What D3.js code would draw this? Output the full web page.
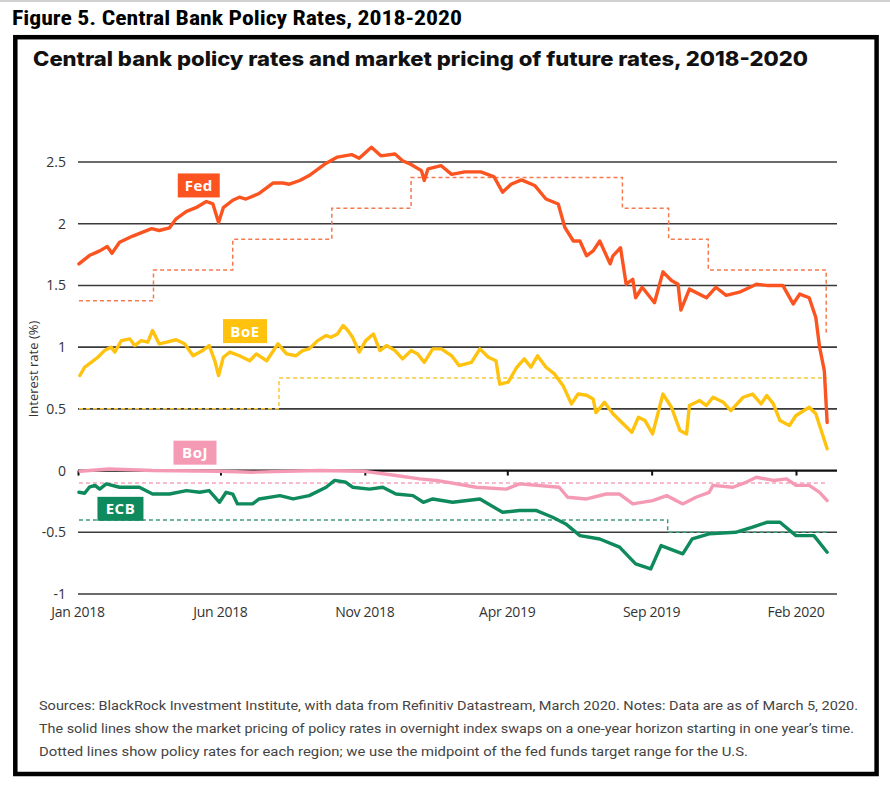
<!DOCTYPE html>
<html><head><meta charset="utf-8">
<script src="https://cdn.jsdelivr.net/npm/d3@7"></script>
<style>body{margin:0;background:#fff;}svg{display:block;}</style>
</head><body>
<svg id="c" width="890" height="790"></svg>
<script>
// ---------- DATA ----------
const figureTitle = "Figure 5. Central Bank Policy Rates, 2018-2020";
const chartTitle = "Central bank policy rates and market pricing of future rates, 2018-2020";
const yLabel = "Interest rate (%)";
const yTicks = [2.5, 2, 1.5, 1, 0.5, 0, -0.5, -1];
const xTicks = ["2018-01-01","2018-06-01","2018-11-01","2019-04-01","2019-09-01","2020-02-01"];
const notes = [
 "Sources: BlackRock Investment Institute, with data from Refinitiv Datastream, March 2020. Notes: Data are as of March 5, 2020.",
 "The solid lines show the market pricing of policy rates in overnight index swaps on a one-year horizon starting in one year\u2019s time.",
 "Dotted lines show policy rates for each region; we use the midpoint of the fed funds target range for the U.S."
];

const fedMarket = [
["2018-01-02",1.675],["2018-01-13",1.742],["2018-01-24",1.78],["2018-02-01",1.815],["2018-02-06",1.76],["2018-02-14",1.85],
["2018-02-28",1.90],["2018-03-20",1.96],["2018-03-28",1.945],["2018-04-08",1.967],["2018-04-15",2.04],["2018-04-26",2.10],
["2018-05-06",2.13],["2018-05-17",2.18],["2018-05-24",2.16],["2018-05-30",2.01],["2018-06-04",2.13],["2018-06-14",2.19],
["2018-06-21",2.215],["2018-06-28",2.20],["2018-07-12",2.245],["2018-07-27",2.33],["2018-08-06",2.33],["2018-08-13",2.32],
["2018-08-24",2.35],["2018-09-03",2.39],["2018-09-12",2.44],["2018-09-21",2.49],["2018-10-03",2.54],["2018-10-18",2.56],
["2018-10-26",2.53],["2018-11-08",2.62],["2018-11-18",2.55],["2018-12-03",2.565],["2018-12-11",2.51],["2018-12-20",2.48],
["2018-12-31",2.43],["2019-01-03",2.35],["2019-01-07",2.445],["2019-01-21",2.47],["2019-02-01",2.40],["2019-02-15",2.42],
["2019-03-04",2.42],["2019-03-18",2.38],["2019-03-27",2.255],["2019-04-05",2.32],["2019-04-16",2.355],["2019-04-30",2.31],
["2019-05-12",2.20],["2019-05-25",2.16],["2019-06-01",1.97],["2019-06-10",1.86],["2019-06-17",1.86],["2019-06-24",1.74],
["2019-07-01",1.78],["2019-07-08",1.86],["2019-07-19",1.675],["2019-07-22",1.74],["2019-07-30",1.805],["2019-08-05",1.51],
["2019-08-12",1.55],["2019-08-15",1.40],["2019-08-22",1.485],["2019-09-04",1.36],["2019-09-13",1.61],["2019-09-22",1.54],
["2019-09-29",1.51],["2019-10-02",1.30],["2019-10-11",1.47],["2019-10-29",1.40],["2019-11-08",1.485],["2019-11-19",1.42],
["2019-12-03",1.445],["2019-12-21",1.51],["2020-01-01",1.50],["2020-01-18",1.50],["2020-01-29",1.35],["2020-02-05",1.43],
["2020-02-15",1.40],["2020-02-22",1.24],["2020-02-26",1.00],["2020-03-02",0.81],["2020-03-05",0.39]
];
const boeMarket = [
["2018-01-03",0.77],["2018-01-08",0.837],["2018-01-15",0.877],["2018-01-22",0.918],["2018-01-29",0.972],["2018-02-05",1.0],
["2018-02-09",0.96],["2018-02-16",1.053],["2018-02-25",1.067],["2018-03-02",1.013],["2018-03-09",1.053],["2018-03-16",1.04],
["2018-03-21",1.135],["2018-03-28",1.027],["2018-04-05",1.04],["2018-04-15",1.06],["2018-04-24",1.027],["2018-05-03",0.93],
["2018-05-13",0.972],["2018-05-20",1.013],["2018-05-26",0.89],["2018-05-30",0.77],["2018-06-04",0.918],["2018-06-11",0.96],
["2018-06-21",0.93],["2018-07-02",0.89],["2018-07-09",0.945],["2018-07-20",0.89],["2018-08-01",1.027],["2018-08-10",0.945],
["2018-08-20",0.93],["2018-08-27",0.972],["2018-09-03",0.986],["2018-09-12",1.053],["2018-09-21",1.094],["2018-09-26",1.08],
["2018-10-03",1.107],["2018-10-09",1.175],["2018-10-14",1.135],["2018-10-19",1.08],["2018-10-26",0.96],["2018-11-02",1.053],
["2018-11-10",1.107],["2018-11-17",0.972],["2018-11-24",1.013],["2018-12-03",0.972],["2018-12-11",0.905],["2018-12-20",0.972],
["2018-12-27",0.945],["2019-01-03",0.877],["2019-01-12",0.986],["2019-01-21",0.986],["2019-02-01",0.93],["2019-02-09",0.85],
["2019-02-22",0.877],["2019-03-03",0.986],["2019-03-12",0.918],["2019-03-20",0.89],["2019-03-24",0.70],["2019-04-02",0.716],
["2019-04-11",0.837],["2019-04-19",0.905],["2019-04-26",0.837],["2019-05-03",0.93],["2019-05-12",0.837],["2019-05-21",0.783],
["2019-05-30",0.69],["2019-06-08",0.54],["2019-06-15",0.62],["2019-06-24",0.61],["2019-07-01",0.58],["2019-07-04",0.47],
["2019-07-13",0.553],["2019-07-22",0.46],["2019-08-02",0.378],["2019-08-11",0.31],["2019-08-18",0.432],["2019-08-25",0.405],
["2019-09-02",0.297],["2019-09-13",0.62],["2019-09-22",0.513],["2019-10-01",0.324],["2019-10-08",0.297],["2019-10-11",0.527],
["2019-10-22",0.567],["2019-10-29",0.527],["2019-11-05",0.594],["2019-11-16",0.553],["2019-11-24",0.486],["2019-12-07",0.594],
["2019-12-17",0.62],["2019-12-26",0.54],["2020-01-01",0.608],["2020-01-08",0.54],["2020-01-15",0.405],["2020-01-25",0.365],
["2020-02-01",0.446],["2020-02-15",0.513],["2020-02-22",0.46],["2020-03-05",0.176]
];
const bojMarket = [
["2018-01-03",-0.005],["2018-02-03",0.013],["2018-03-21",0.0],["2018-05-31",-0.005],["2018-07-05",-0.013],["2018-09-14",0.0],
["2018-10-30",-0.005],["2018-12-04",-0.04],["2018-12-29",-0.067],["2019-01-16",-0.08],["2019-02-27",-0.135],["2019-03-31",-0.15],
["2019-04-14",-0.108],["2019-05-26",-0.135],["2019-06-04",-0.216],["2019-06-24",-0.23],["2019-07-15",-0.19],["2019-07-29",-0.19],
["2019-08-12",-0.27],["2019-09-02",-0.243],["2019-09-17",-0.203],["2019-10-04",-0.27],["2019-10-18",-0.216],["2019-11-01",-0.176],
["2019-11-05",-0.12],["2019-11-26",-0.135],["2019-12-10",-0.095],["2019-12-21",-0.054],["2020-01-08",-0.08],["2020-01-22",-0.067],
["2020-02-01",-0.12],["2020-02-15",-0.12],["2020-02-26",-0.176],["2020-03-05",-0.243]
];
const ecbMarket = [
["2018-01-02",-0.176],["2018-01-08",-0.184],["2018-01-13",-0.135],["2018-01-19",-0.12],["2018-01-24",-0.15],["2018-01-31",-0.108],
["2018-02-14",-0.135],["2018-03-07",-0.135],["2018-03-21",-0.19],["2018-04-08",-0.19],["2018-04-26",-0.162],["2018-05-10",-0.176],
["2018-05-20",-0.162],["2018-05-31",-0.257],["2018-06-07",-0.176],["2018-06-14",-0.19],["2018-06-19",-0.27],["2018-07-05",-0.27],
["2018-07-12",-0.23],["2018-08-03",-0.203],["2018-08-17",-0.23],["2018-09-03",-0.203],["2018-09-21",-0.135],["2018-09-30",-0.08],
["2018-10-12",-0.095],["2018-10-19",-0.135],["2018-11-06",-0.15],["2018-11-20",-0.135],["2018-12-04",-0.19],["2018-12-22",-0.203],
["2019-01-02",-0.257],["2019-01-12",-0.23],["2019-02-02",-0.257],["2019-03-03",-0.23],["2019-03-27",-0.338],["2019-04-14",-0.324],
["2019-05-02",-0.324],["2019-05-19",-0.378],["2019-06-02",-0.432],["2019-06-17",-0.527],["2019-07-08",-0.554],["2019-07-29",-0.62],
["2019-08-15",-0.756],["2019-08-31",-0.797],["2019-09-11",-0.608],["2019-10-04",-0.675],["2019-10-14",-0.554],["2019-11-01",-0.513],
["2019-11-29",-0.50],["2019-12-17",-0.459],["2020-01-01",-0.419],["2020-01-15",-0.419],["2020-02-01",-0.527],["2020-02-20",-0.527],
["2020-03-05",-0.662]
];
// policy rates (step changes)
const fedPolicy = [["2018-01-02",1.375],["2018-03-22",1.625],["2018-06-14",1.875],["2018-09-27",2.125],["2018-12-20",2.375],
 ["2019-08-01",2.125],["2019-09-19",1.875],["2019-10-31",1.625],["2020-03-04",1.125],["2020-03-05",1.125]];
const boePolicy = [["2018-01-02",0.5],["2018-08-02",0.75],["2020-03-05",0.75]];
const bojPolicy = [["2018-01-02",-0.1],["2020-03-05",-0.1]];
const ecbPolicy = [["2018-01-02",-0.4],["2019-09-18",-0.5],["2020-03-05",-0.5]];

const seriesNames = ["Fed","BoE","BoJ","ECB"];
const seriesColors = ["#fc5420","#ffc20e","#f59ab4","#0f8a5c"];
const policyColors = ["#f57a50","#f8c93a","#f5a3bd","#3e9e7c"];
const labelPos = {Fed:["2018-05-09",2.31],BoE:["2018-06-27",1.13],BoJ:["2018-05-05",0.145],ECB:["2018-02-15",-0.31]};

// ---------- DRAW ----------
const svg = d3.select("#c");
const parse = d3.utcParse("%Y-%m-%d");
const W = 890;

svg.append("line").attr("x1",0).attr("x2",W).attr("y1",1).attr("y2",1).attr("stroke","#d0d0d0").attr("stroke-width",2);

svg.append("text").text(figureTitle).attr("x",12).attr("y",25)
  .attr("font-family","'Liberation Sans Narrow','Roboto Condensed','Liberation Sans',sans-serif")
  .attr("font-weight","bold").attr("font-size",20).attr("fill","#000")
  .attr("textLength",450).attr("lengthAdjust","spacingAndGlyphs");

svg.append("rect").attr("x",15.3).attr("y",37.2).attr("width",861.3).attr("height",736.8)
  .attr("fill","none").attr("stroke","#000").attr("stroke-width",4.5);

svg.append("text").text(chartTitle).attr("x",33).attr("y",66)
  .attr("font-family","Inter,'Open Sans',sans-serif").attr("font-weight",800).attr("font-size",20)
  .attr("fill","#111").attr("textLength",775).attr("lengthAdjust","spacingAndGlyphs");

const x = d3.scaleUtc().domain([parse("2018-01-01"), parse("2020-02-01")]).range([78, 796]);
const y = d3.scaleLinear().domain([-1, 2.5]).range([594, 162]);
const gridRight = 837;

// gridlines + y labels
const g = svg.append("g");
yTicks.forEach(v => {
  g.append("line").attr("x1",78).attr("x2",gridRight).attr("y1",y(v)).attr("y2",y(v))
    .attr("stroke", v===0 ? "#111" : "#3a3a3a").attr("stroke-width", v===0 ? 2.2 : 1.6);
  g.append("text").text(v).attr("x",66).attr("y",y(v)+5).attr("text-anchor","end")
    .attr("font-family","'Open Sans',sans-serif").attr("font-size",14).attr("fill","#333");
});

// x axis at zero
const xa = d3.axisBottom(x).tickValues(xTicks.map(parse)).tickSize(5).tickFormat("");
const axG = svg.append("g").attr("transform",`translate(0,${y(0)})`).call(xa);
axG.select(".domain").remove();
axG.selectAll(".tick line").attr("stroke","#111").attr("stroke-width",2);
xTicks.forEach(t => {
  svg.append("text").text(d3.utcFormat("%b %Y")(parse(t))).attr("x",x(parse(t))).attr("y",617)
    .attr("text-anchor","middle").attr("font-family","'Open Sans',sans-serif").attr("font-size",14)
    .attr("fill","#333").attr("letter-spacing","-0.3");
});

// y label
svg.append("text").text(yLabel).attr("transform","translate(38,369) rotate(-90)").attr("text-anchor","middle")
  .attr("font-family","'Open Sans',sans-serif").attr("font-size",13).attr("fill","#333");

const line = d3.line().x(d => x(parse(d[0]))).y(d => y(d[1]));
const step = d3.line().x(d => x(parse(d[0]))).y(d => y(d[1])).curve(d3.curveStepAfter);

const policies = [fedPolicy, boePolicy, bojPolicy, ecbPolicy];
const markets = [fedMarket, boeMarket, bojMarket, ecbMarket];

policies.forEach((p,i) => {
  svg.append("path").attr("d", step(p)).attr("fill","none").attr("stroke",policyColors[i])
    .attr("stroke-width",1.5).attr("stroke-dasharray","4,3");
});
// draw order: BoJ, ECB, BoE, Fed
[2,3,1,0].forEach(i => {
  svg.append("path").attr("d", line(markets[i])).attr("fill","none").attr("stroke",seriesColors[i])
    .attr("stroke-width",3.4).attr("stroke-linejoin","round").attr("stroke-linecap","round");
});

// labels
const lw = {Fed:42, BoE:44, BoJ:43, ECB:46};
seriesNames.forEach((n,i) => {
  const cx = x(parse(labelPos[n][0])), cy = y(labelPos[n][1]);
  svg.append("rect").attr("x",cx - lw[n]/2).attr("y",cy-12).attr("width",lw[n]).attr("height",24)
    .attr("fill",seriesColors[i]);
  svg.append("text").text(n).attr("x",cx).attr("y",cy+5.5).attr("text-anchor","middle")
    .attr("font-family","'Open Sans',sans-serif").attr("font-weight","bold").attr("font-size",15)
    .attr("fill","#fff").attr("letter-spacing","0.5");
});

// notes
const noteW = [819, 815, 709];
notes.forEach((t,i) => {
  svg.append("text").text(t).attr("x",39).attr("y",710 + i*23)
    .attr("font-family","Roboto,'Open Sans',sans-serif").attr("font-size",13.2).attr("fill","#444")
    .attr("textLength",noteW[i]).attr("lengthAdjust","spacingAndGlyphs");
});
</script>
</body></html>
